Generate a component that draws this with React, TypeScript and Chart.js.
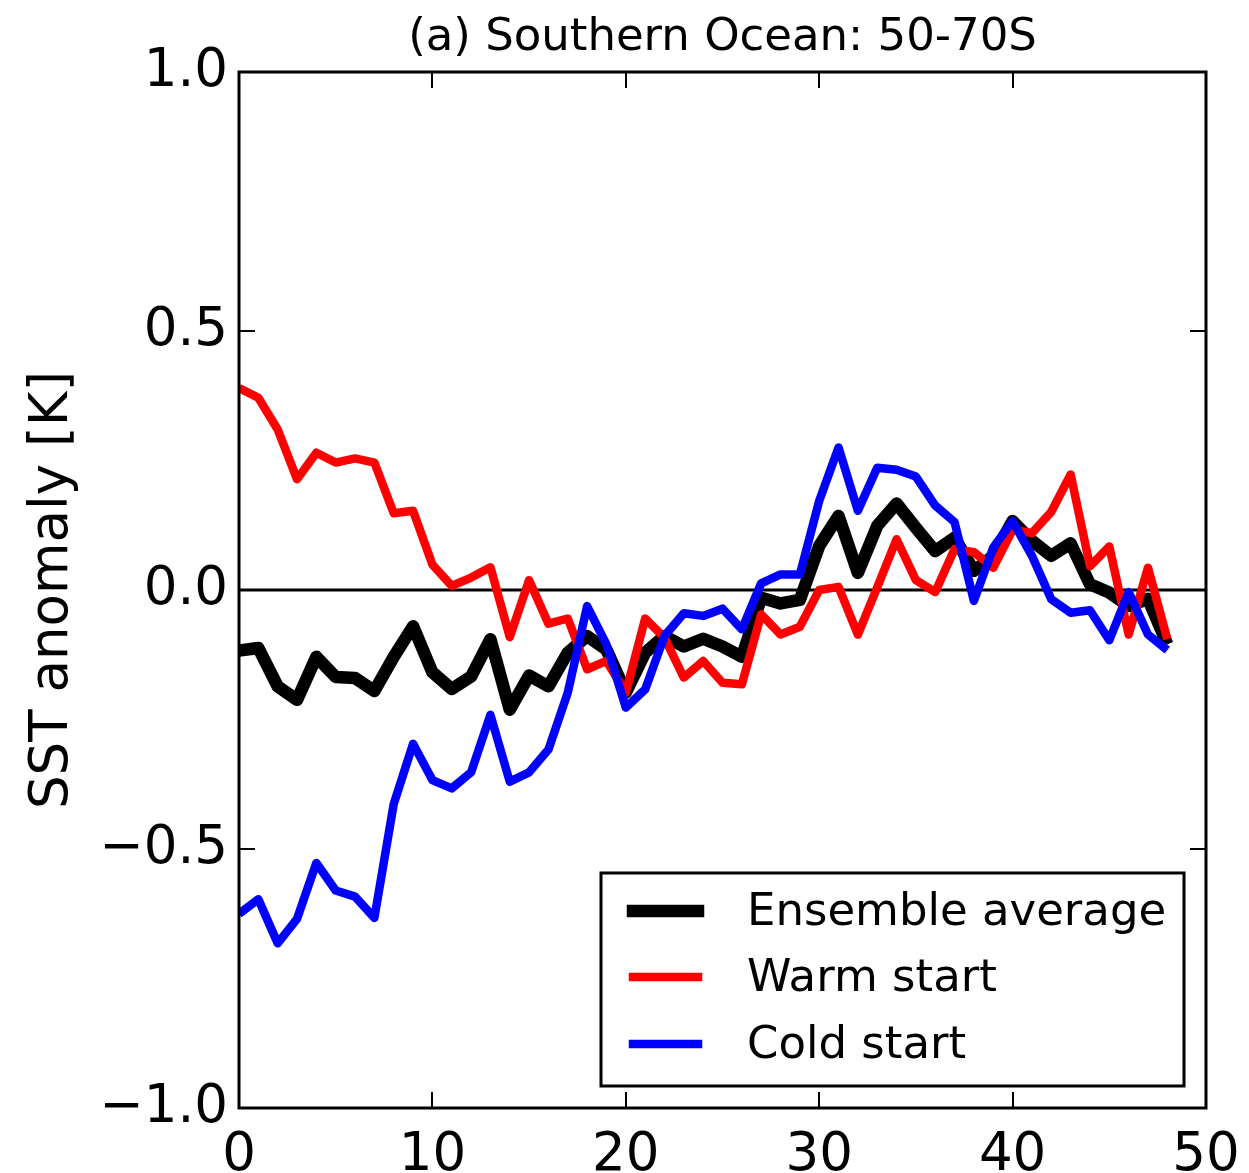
import React, { useEffect, useRef } from "react";
import { Chart, registerables } from "chart.js";

Chart.register(...registerables);

const leadYears = [
  0, 1, 2, 3, 4, 5, 6, 7, 8, 9, 10, 11, 12, 13, 14, 15, 16, 17, 18, 19, 20, 21, 22, 23, 24,
  25, 26, 27, 28, 29, 30, 31, 32, 33, 34, 35, 36, 37, 38, 39, 40, 41, 42, 43, 44, 45, 46, 47, 48,
];

const ensembleAverage = [
  -0.117, -0.112, -0.186, -0.212, -0.129, -0.168, -0.17, -0.195, -0.129, -0.07,
  -0.159, -0.191, -0.167, -0.095, -0.231, -0.165, -0.186, -0.121, -0.089, -0.115,
  -0.198, -0.121, -0.089, -0.109, -0.094, -0.109, -0.129, -0.015, -0.026, -0.019,
  0.085, 0.143, 0.033, 0.124, 0.167, 0.12, 0.075, 0.101, 0.037, 0.066,
  0.133, 0.095, 0.066, 0.09, 0.011, -0.005, -0.031, -0.017, -0.105,
];

const warmStart = [
  0.39, 0.371, 0.31, 0.214, 0.265, 0.246, 0.254, 0.246, 0.148, 0.153,
  0.049, 0.008, 0.024, 0.044, -0.091, 0.019, -0.065, -0.055, -0.153, -0.137,
  -0.198, -0.055, -0.092, -0.169, -0.137, -0.179, -0.182, -0.047, -0.086, -0.071,
  0.0, 0.006, -0.086, 0.005, 0.098, 0.019, -0.004, 0.079, 0.073, 0.043,
  0.116, 0.11, 0.151, 0.223, 0.046, 0.084, -0.086, 0.043, -0.095,
];

const coldStart = [
  -0.625, -0.597, -0.682, -0.635, -0.527, -0.58, -0.592, -0.633, -0.413, -0.297,
  -0.367, -0.383, -0.352, -0.241, -0.37, -0.352, -0.308, -0.198, -0.031, -0.105,
  -0.227, -0.192, -0.089, -0.045, -0.05, -0.036, -0.076, 0.013, 0.03, 0.03,
  0.172, 0.275, 0.153, 0.236, 0.232, 0.219, 0.163, 0.131, -0.021, 0.082,
  0.133, 0.066, -0.018, -0.044, -0.039, -0.097, -0.004, -0.086, -0.116,
];

const seriesNames = ["Ensemble average", "Warm start", "Cold start"];
const titleText = "(a) Southern Ocean: 50-70S";
const yAxisTitle = "SST anomaly [K]";

const FONT = "'DejaVu Sans', 'Bitstream Vera Sans', sans-serif";

const decorPlugin = {
  id: "decor",
  beforeDatasetsDraw(chart: any) {
    const { ctx, chartArea: a, scales } = chart;
    const y0 = scales.y.getPixelForValue(0);
    ctx.save();
    ctx.strokeStyle = "#000";
    ctx.lineWidth = 3;
    ctx.beginPath();
    ctx.moveTo(a.left, y0);
    ctx.lineTo(a.right, y0);
    ctx.stroke();
    ctx.restore();
  },
  afterDatasetsDraw(chart: any) {
    const { ctx, chartArea: a, scales } = chart;
    ctx.save();
    ctx.strokeStyle = "#000";
    ctx.lineWidth = 2;
    const tl = 16;
    scales.x.ticks.forEach((t: any) => {
      const px = Math.round(scales.x.getPixelForValue(t.value));
      ctx.beginPath();
      ctx.moveTo(px, a.bottom);
      ctx.lineTo(px, a.bottom - tl);
      ctx.moveTo(px, a.top);
      ctx.lineTo(px, a.top + tl);
      ctx.stroke();
    });
    scales.y.ticks.forEach((t: any) => {
      const py = Math.round(scales.y.getPixelForValue(t.value));
      ctx.beginPath();
      ctx.moveTo(a.left, py);
      ctx.lineTo(a.left + tl, py);
      ctx.moveTo(a.right, py);
      ctx.lineTo(a.right - tl, py);
      ctx.stroke();
    });
    ctx.lineWidth = 3;
    ctx.strokeRect(a.left, a.top, a.right - a.left, a.bottom - a.top);

    // legend
    const lx = 601, ly = 873, lw = 583, lh = 213;
    ctx.fillStyle = "#fff";
    ctx.fillRect(lx, ly, lw, lh);
    ctx.lineWidth = 3;
    ctx.strokeStyle = "#000";
    ctx.strokeRect(lx, ly, lw, lh);
    const rows = [911, 977, 1044];
    chart.data.datasets.forEach((ds: any, i: number) => {
      const ry = rows[i];
      const ext = ds.borderWidth / 2;
      ctx.strokeStyle = ds.borderColor;
      ctx.lineWidth = ds.borderWidth;
      ctx.lineCap = "butt";
      ctx.beginPath();
      ctx.moveTo(633 - ext, ry);
      ctx.lineTo(698 + ext, ry);
      ctx.stroke();
      ctx.fillStyle = "#000";
      ctx.font = `45px ${FONT}`;
      ctx.textAlign = "left";
      ctx.textBaseline = "middle";
      ctx.fillText(ds.label, 747, ry + 2);
    });

    // title
    ctx.fillStyle = "#000";
    ctx.font = `45px ${FONT}`;
    ctx.textAlign = "center";
    ctx.textBaseline = "alphabetic";
    ctx.fillText(titleText, (a.left + a.right) / 2, 50);

    // y axis title
    ctx.save();
    ctx.translate(67, (a.top + a.bottom) / 2);
    ctx.rotate(-Math.PI / 2);
    ctx.font = `53px ${FONT}`;
    ctx.textAlign = "center";
    ctx.textBaseline = "alphabetic";
    ctx.fillText(yAxisTitle, 0, 0);
    ctx.restore();

    ctx.restore();
  },
};

export default function App() {
  const ref = useRef<HTMLCanvasElement | null>(null);
  useEffect(() => {
    if (!ref.current) return;
    const mk = (vals: number[]) => leadYears.map((x, i) => ({ x, y: vals[i] }));
    const common = { pointRadius: 0, borderJoinStyle: "round", borderCapStyle: "butt", tension: 0 };
    const chart = new Chart(ref.current, {
      type: "line",
      data: {
        datasets: [
          { label: seriesNames[0], data: mk(ensembleAverage), borderColor: "#000000", borderWidth: 12.5, order: 3, ...common },
          { label: seriesNames[1], data: mk(warmStart), borderColor: "#ff0000", borderWidth: 8.5, order: 2, ...common },
          { label: seriesNames[2], data: mk(coldStart), borderColor: "#0000ff", borderWidth: 8.5, order: 1, ...common },
        ],
      } as any,
      options: {
        animation: false,
        responsive: false,
        devicePixelRatio: 1,
        layout: { padding: { left: 0, top: 72, right: 43, bottom: 0 } },
        plugins: {
          legend: { display: false },
          tooltip: { enabled: false },
          title: { display: false },
        },
        scales: {
          x: {
            type: "linear",
            min: 0,
            max: 50,
            grid: { display: false, drawTicks: false },
            border: { display: false },
            ticks: {
              stepSize: 10,
              color: "#000",
              padding: 16,
              maxRotation: 0,
              font: { family: FONT, size: 53 },
              callback: (v: any) => String(v),
            },
            afterFit: (s: any) => {
              s.height = 1173 - 1108;
              s.paddingLeft = 0;
              s.paddingRight = 0;
            },
          },
          y: {
            type: "linear",
            min: -1,
            max: 1,
            grid: { display: false, drawTicks: false },
            border: { display: false },
            ticks: {
              stepSize: 0.5,
              color: "#000",
              padding: 11,
              font: { family: FONT, size: 53 },
              callback: (v: any) => Number(v).toFixed(1).replace("-", "\u2212"),
            },
            afterFit: (s: any) => {
              s.width = 239;
              s.paddingTop = 0;
              s.paddingBottom = 0;
            },
          },
        },
      } as any,
      plugins: [decorPlugin],
    });
    return () => chart.destroy();
  }, []);
  return (
    <div style={{ position: "fixed", left: 0, top: 0, width: 1249, height: 1173, background: "#fff" }}>
      <canvas ref={ref} width={1249} height={1173} style={{ display: "block" }} />
    </div>
  );
}
